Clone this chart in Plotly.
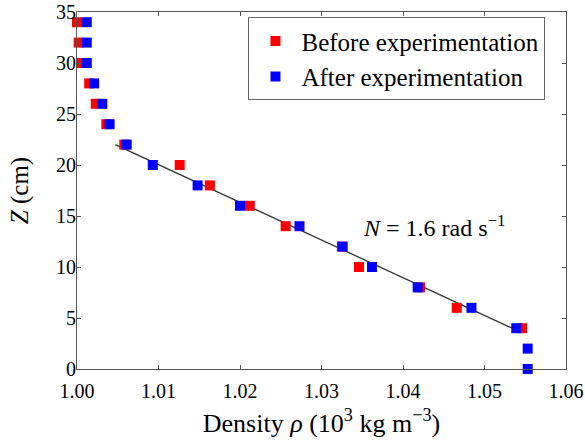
import plotly.graph_objects as go

# Data
z_before = [34, 32, 30, 28, 26, 24, 22, 20, 18, 16, 14, 12, 10, 8, 6, 4]
rho_before = [1.0000, 1.0002, 1.0006, 1.0015, 1.0023, 1.0036, 1.0058, 1.0126,
              1.0163, 1.0212, 1.0256, 1.0325, 1.0346, 1.0421, 1.0466, 1.0546]
z_after = [34, 32, 30, 28, 26, 24, 22, 20, 18, 16, 14, 12, 10, 8, 6, 4, 2, 0]
rho_after = [1.0012, 1.0012, 1.0012, 1.0021, 1.0031, 1.0040, 1.0061, 1.0093,
             1.0148, 1.0200, 1.0273, 1.0326, 1.0362, 1.0418, 1.0484, 1.0539,
             1.0553, 1.0553]
fit_rho = [1.0047, 1.0534]
fit_z = [22, 4]
x_ticks = [1.00, 1.01, 1.02, 1.03, 1.04, 1.05, 1.06]
x_tick_labels = ["1.00", "1.01", "1.02", "1.03", "1.04", "1.05", "1.06"]
y_ticks = [0, 5, 10, 15, 20, 25, 30, 35]

FONT = "Liberation Serif"
AX = "#555555"

fig = go.Figure()
fig.add_trace(go.Scatter(x=fit_rho, y=fit_z, mode="lines",
                         line=dict(color="#333333", width=1.3),
                         showlegend=False, hoverinfo="skip"))
fig.add_trace(go.Scatter(x=rho_before, y=z_before, mode="markers",
                         name="Before experimentation",
                         marker=dict(symbol="square", size=10, color="#ff0000"),
                         cliponaxis=False))
fig.add_trace(go.Scatter(x=rho_after, y=z_after, mode="markers",
                         name="After experimentation",
                         marker=dict(symbol="square", size=10, color="#0000ff"),
                         cliponaxis=False))

fig.add_annotation(x=1.0438, y=14, xref="x", yref="y",
                   text="<i>N</i> = 1.6 rad s<sup>\u22121</sup>",
                   showarrow=False,
                   font=dict(family=FONT, size=24, color="black"))

axis_common = dict(showline=True, linecolor=AX, linewidth=1, mirror="ticks",
                   ticks="inside", ticklen=4, tickcolor=AX, showgrid=False,
                   zeroline=False,
                   tickfont=dict(family=FONT, size=20, color="black"))

fig.update_xaxes(range=[1.0, 1.06], tickvals=x_ticks, ticktext=x_tick_labels,
                 ticklabelstandoff=4,
                 title=dict(text="Density <i>\u03c1</i> (10<sup>3</sup> kg m<sup>\u22123</sup>)",
                            font=dict(family=FONT, size=26, color="black"),
                            standoff=12),
                 **axis_common)
fig.update_yaxes(range=[0, 35], tickvals=y_ticks,
                 ticklabelstandoff=-4,
                 title=dict(text="<i>Z</i> (cm)",
                            font=dict(family=FONT, size=25, color="black"),
                            standoff=20),
                 **axis_common)

fig.update_layout(
    width=585, height=443,
    margin=dict(l=77, r=19, t=12, b=74, autoexpand=False),
    paper_bgcolor="white", plot_bgcolor="white",
    font=dict(family=FONT, color="black"),
    legend=dict(x=0.958, y=0.985, xanchor="right", yanchor="top",
                bordercolor="#666666", borderwidth=1, bgcolor="white",
                font=dict(family=FONT, size=25, color="black"),
                itemwidth=42, tracegroupgap=0),
)

# remove the browser's default 8px body margin so the figure sits at (0, 0)
fig.write_html("out.html",
               config={"displayModeBar": False},
               post_script="document.body.style.margin='0';"
                           "document.body.style.overflow='hidden';")
